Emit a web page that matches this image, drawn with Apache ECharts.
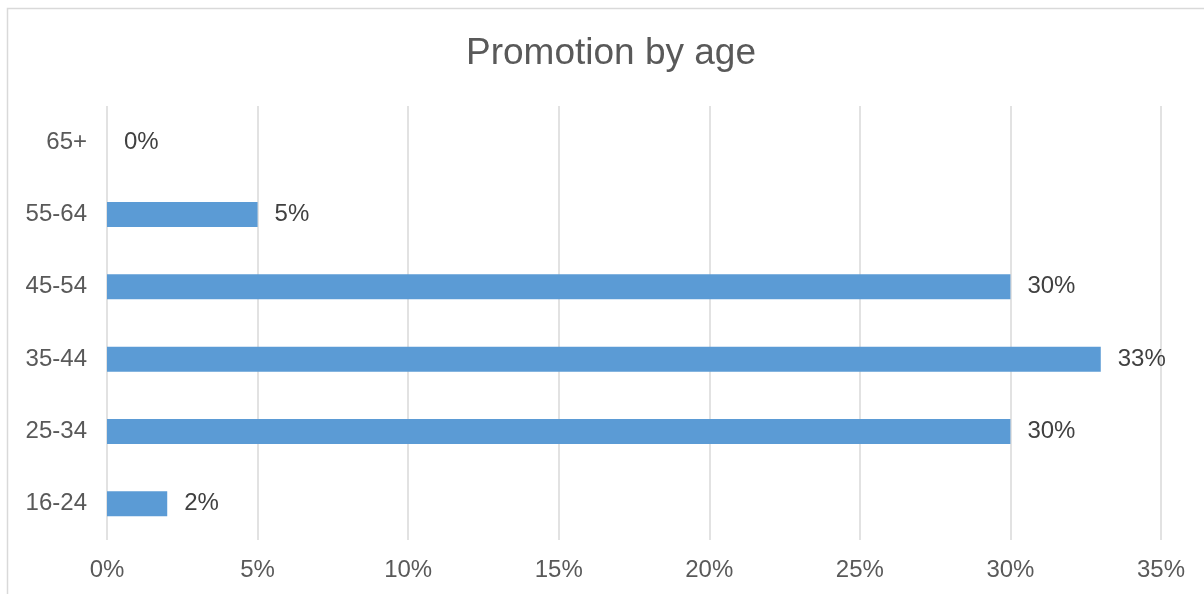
<!DOCTYPE html>
<html>
<head>
<meta charset="utf-8">
<script src="https://cdn.jsdelivr.net/npm/echarts@6/dist/echarts.min.js"></script>
<style>
html,body{margin:0;padding:0;background:#fff;}
#chart{width:1204px;height:594px;}
</style>
</head>
<body>
<div id="chart"></div>
<script>
const categories = ['16-24', '25-34', '35-44', '45-54', '55-64', '65+'];
const values = [2, 30, 33, 30, 5, 0];
const xTicks = [0, 5, 10, 15, 20, 25, 30, 35];

const chart = echarts.init(document.getElementById('chart'));
chart.setOption({
  animation: false,
  backgroundColor: '#fff',
  title: {
    text: 'Promotion by age',
    left: 461,
    top: 30,
    textStyle: { fontFamily: 'Liberation Sans', fontSize: 37, fontWeight: 'normal', color: '#595959' }
  },
  graphic: [{
    type: 'rect',
    shape: { x: 7.5, y: 8.5, width: 1300, height: 700 },
    style: { fill: 'none', stroke: '#D9D9D9', lineWidth: 1.5 },
    silent: true
  }],
  grid: { left: 107, right: 43, top: 106, bottom: 54, containLabel: false },
  xAxis: {
    type: 'value',
    min: xTicks[0],
    max: xTicks[xTicks.length - 1],
    interval: 5,
    axisLine: { show: false },
    axisTick: { show: false },
    axisLabel: { formatter: '{value}%', color: '#595959', fontFamily: 'Liberation Sans', fontSize: 24, margin: 18 },
    splitLine: { show: true, lineStyle: { color: '#D9D9D9', width: 1.5 } }
  },
  yAxis: {
    type: 'category',
    data: categories,
    axisLine: { show: false },
    axisTick: { show: false },
    axisLabel: { color: '#595959', fontFamily: 'Liberation Sans', fontSize: 24, margin: 20 },
    splitLine: { show: false }
  },
  series: [{
    type: 'bar',
    data: values,
    barWidth: 25,
    itemStyle: { color: '#5B9BD5' },
    label: {
      show: true,
      position: 'right',
      distance: 17,
      formatter: '{c}%',
      color: '#404040',
      fontFamily: 'Liberation Sans',
      fontSize: 24
    }
  }]
});
</script>
</body>
</html>
